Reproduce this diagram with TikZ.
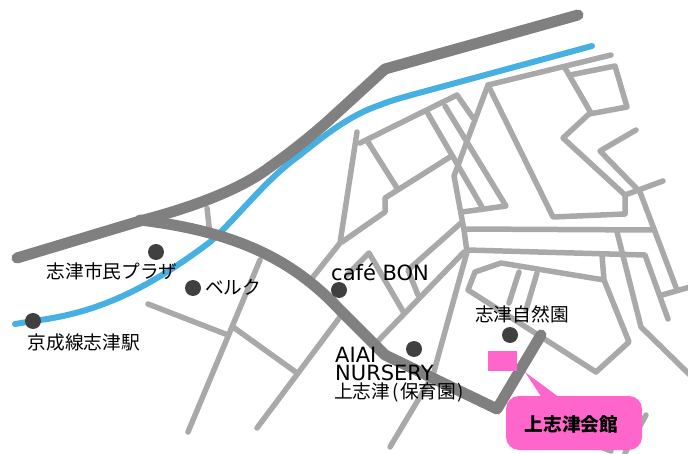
\documentclass[tikz,border=0pt]{standalone}
\usepackage{fontspec}
\setmainfont{DejaVu Sans}
\newfontfamily\cjk{Noto Sans CJK JP}
\definecolor{roadc}{HTML}{A9A9A9}
\definecolor{mainc}{HTML}{808080}
\definecolor{railc}{HTML}{45B0E1}
\definecolor{pinkc}{HTML}{FF66CC}
\definecolor{dotc}{HTML}{404040}
\tikzset{
  road/.style={draw=roadc,line width=5.5pt,line cap=round,line join=round},
  mainroad/.style={draw=mainc,line width=11pt,line cap=round,line join=round},
  rail/.style={draw=railc,line width=6pt,line cap=round,line join=round},
  place/.style={fill=dotc,draw=none,circle,minimum size=16pt,inner sep=0pt},
  lab/.style={anchor=west,inner sep=0pt,text=black,font=\fontsize{18.7}{18.7}\selectfont\cjk},
  latin/.style={anchor=west,inner sep=0pt,text=black,font=\fontsize{21}{21}\selectfont},
}
\begin{document}
\begin{tikzpicture}[x=1pt,y=-1pt]
\useasboundingbox (0,0) rectangle (688,454);
% thin roads
\draw[road] (611,55) -- (488,85) -- (553,217) -- (625,214) -- (625,195) -- (563,138) -- (589,114) -- (627,107) -- (615,66) -- (570,75);
\draw[road] (565,68) -- (591,113);
\draw[road] (488,85) -- (454,176) -- (464,230) -- (467,252) -- (433,375) -- (390,447);
\draw[road] (360,143) -- (457,95) -- (473,118);
\draw[road] (445,106) -- (506,206) -- (462,212);
\draw[road] (427,112) -- (482,207);
\draw[road] (368,142) -- (397,188);
\draw[road] (450,157) -- (385,198) -- (385,212) -- (342,242);
\draw[road] (357,132) -- (340,243) -- (313,277);
\draw[road] (636,130) -- (600,151) -- (640,192) -- (677,290);
\draw[road] (663,181) -- (625,195);
\draw[road] (464,229) -- (652,230);
\draw[road] (467,250) -- (645,255) -- (668,319);
\draw[road] (617,232) -- (641,327) -- (690,375);
\draw[road] (602,255) -- (604,280) -- (629,342) -- (596,372) -- (468,290) -- (475,272) -- (501,263) -- (604,280);
\draw[road] (519,272) -- (509,303);
\draw[road] (537,273) -- (526,310);
\draw[road] (690,287) -- (662,295);
\draw[road] (464,252) -- (377,342);
\draw[road] (461,223) -- (408,270) -- (418,295);
\draw[road] (347,275) -- (369,253) -- (404,313);
\draw[road] (148,304) -- (228,335);
\draw[road] (260,260) -- (188,432);
\draw[road] (233,327) -- (297,373);
\draw[road] (343,313) -- (257,428);
\draw[road] (207,208) -- (210,235);
\draw[road] (646,415) -- (625,453);
\draw[road] (590,443) -- (611,451);
% railway
\draw[rail] (15,324) -- (33,321) .. controls (90,314) and (140,295) .. (210,242) .. controls (240,215) and (265,180) .. (300,155) .. controls (325,135) and (350,115) .. (380,105) .. controls (392,100) and (405,97) .. (415,94) -- (592,46);
% main roads
\draw[mainroad] (17,258) -- (140,221) .. controls (190,208) and (240,190) .. (270,167) .. controls (290,153) and (310,137) .. (327,122) -- (385,69) -- (578,15);
\draw[mainroad] (140,220) .. controls (240,232) and (295,262) .. (340,310) -- (385,355) -- (497,409) -- (541,335);
% places
\node[place] (plaza) at (156,252) {};
\node[place] (beruku) at (193,288) {};
\node[place] (station) at (33,321) {};
\node[place] (cafe) at (339,290) {};
\node[place] (park) at (510,335) {};
\node[place] (aiai) at (414,349) {};
% hall
\fill[pinkc] (488,351) rectangle (517,371);
\fill[pinkc] (525,372) -- (542,398) -- (560,398) -- cycle;
\fill[pinkc,rounded corners=13pt] (506,396) rectangle (642,450);
% labels
\node[lab] (t1) at (46.5,271) {志津市民プラザ};
\node[lab] (t2) at (205,287) {ベルク};
\node[lab] (t3) at (27.5,342) {京成線志津駅};
\node[latin] (t4) at (331,272) {café BON};
\node[lab] (t5) at (475,314) {志津自然園};
\node[latin] (t6) at (335,354.5) {AIAI};
\node[latin] (t7) at (335,373) {NURSERY};
\node[lab] (t8) at (334,392) {上志津\kern2pt(\kern1.5pt 保育園\kern1.5pt)};
\node[lab,font=\fontsize{18.7}{18.7}\selectfont\cjk\bfseries] (t9) at (524.5,424) {上志津会館};
\end{tikzpicture}
\end{document}
